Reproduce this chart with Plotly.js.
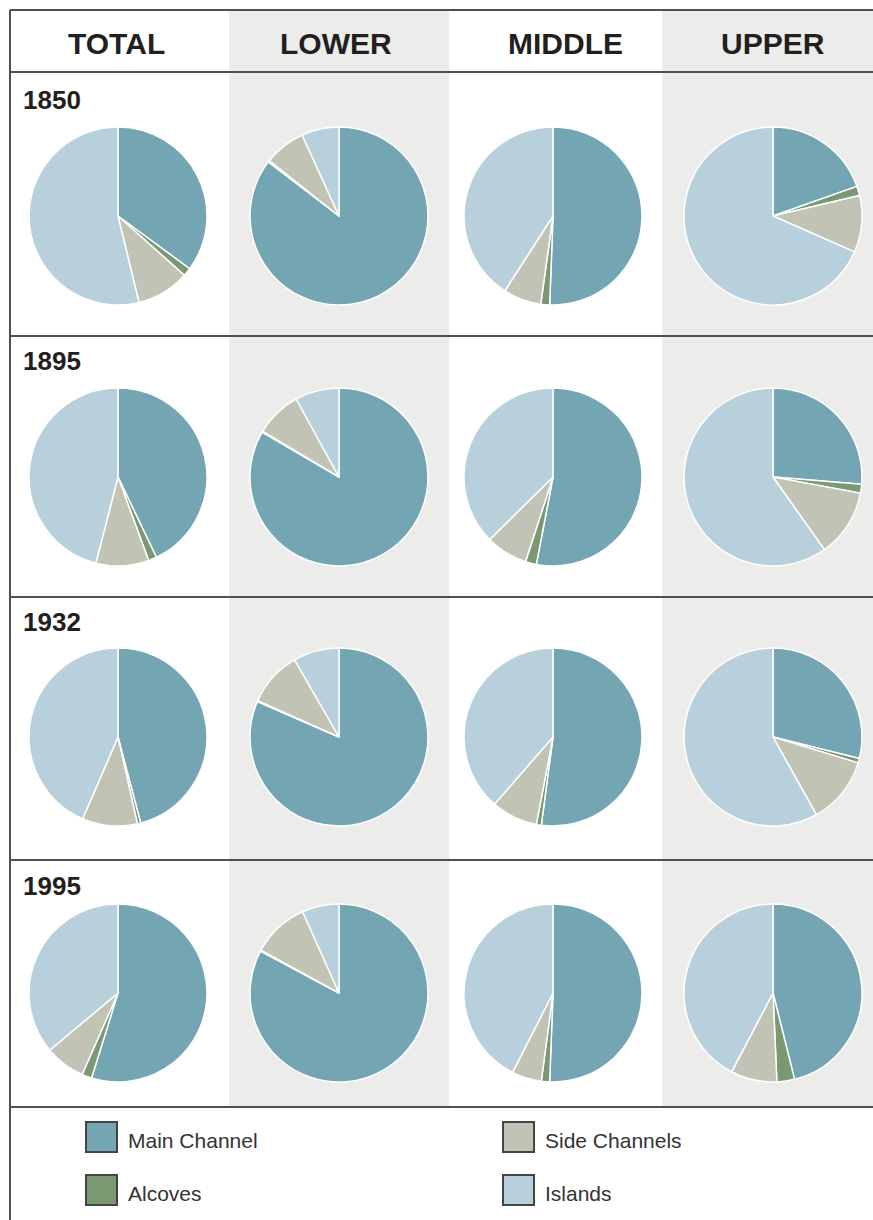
<!DOCTYPE html>
<html>
<head>
<meta charset="utf-8">
<script src="https://cdn.plot.ly/plotly-3.0.1.min.js"></script>
<style>html,body{margin:0;padding:0;background:#fff;}#chart{width:873px;height:1220px;}</style>
</head>
<body>
<div id="chart"></div>
<script>
// ---- Data ----
const regions = ["TOTAL", "LOWER", "MIDDLE", "UPPER"];
const years = ["1850", "1895", "1932", "1995"];
const categories = ["Main Channel", "Alcoves", "Side Channels", "Islands"];
const colors = ["#73a5b3", "#7a9872", "#c1c3b4", "#b8cfdc"];
// shares (%) per region, in category order: Main Channel, Alcoves, Side Channels, Islands
const v1850 = [[35.1, 1.5, 9.6, 53.8], [85.4, 0.3, 7.5, 6.8], [50.6, 1.6, 6.9, 40.9], [19.6, 1.7, 10.3, 68.4]];
const v1895 = [[42.9, 1.5, 9.6, 46.0], [83.4, 0.2, 8.4, 8.0], [53.0, 2.0, 7.6, 37.4], [26.3, 1.6, 12.3, 59.8]];
const v1932 = [[45.9, 0.6, 10.0, 43.5], [81.5, 0.2, 10.0, 8.3], [52.1, 0.9, 8.4, 38.6], [28.9, 0.8, 12.2, 58.1]];
const v1995 = [[54.8, 1.8, 7.3, 36.1], [82.8, 0.2, 10.3, 6.7], [50.6, 1.5, 5.4, 42.5], [46.1, 3.2, 8.4, 42.3]];
const valuesByYear = [v1850, v1895, v1932, v1995];

// ---- Layout geometry (pixels) ----
const W = 873, H = 1220;
const colCenters = [118, 339, 553, 773];
const colEdges = [10, 229, 449, 662, 873];
const rowCenters = [216, 477, 737, 993];
const rowLines = [10, 72, 336, 597, 860, 1107];
const R = 89;
const px = x => x / W;
const py = y => 1 - y / H;

const traces = [];
valuesByYear.forEach((yearVals, ri) => {
  yearVals.forEach((vals, ci) => {
    const cx = colCenters[ci], cy = rowCenters[ri];
    traces.push({
      type: "pie",
      labels: categories,
      values: vals,
      sort: false,
      direction: "clockwise",
      rotation: 0,
      textinfo: "none",
      hovertemplate: regions[ci] + " " + years[ri] + "<br>%{label}: %{value}%<extra></extra>",
      marker: { colors: colors, line: { color: "#ffffff", width: 1.5 } },
      domain: { x: [px(cx - R), px(cx + R)], y: [py(cy + R), py(cy - R)] },
      showlegend: false
    });
  });
});

const shapes = [];
// gray column backgrounds
[1, 3].forEach(ci => {
  shapes.push({ type: "rect", xref: "paper", yref: "paper", layer: "below",
    x0: px(colEdges[ci]), x1: px(colEdges[ci + 1]), y0: py(rowLines[rowLines.length - 1]), y1: py(rowLines[0]),
    fillcolor: "#ececea", line: { width: 0 } });
});
// horizontal rules
rowLines.forEach(y => {
  shapes.push({ type: "line", xref: "paper", yref: "paper", layer: "below",
    x0: px(10), x1: px(W), y0: py(y), y1: py(y), line: { color: "#505050", width: 2 } });
});
// left border
shapes.push({ type: "line", xref: "paper", yref: "paper", layer: "below",
  x0: px(10), x1: px(10), y0: py(10), y1: 0, line: { color: "#505050", width: 2 } });

const annotations = [];
regions.forEach((r, ci) => {
  const hx = [116, 336, 565, 773][ci];
  annotations.push({ text: r, xref: "paper", yref: "paper", x: px(hx), y: py(44),
    xanchor: "center", yanchor: "middle", showarrow: false,
    font: { family: "Liberation Sans, Arial, sans-serif", size: 30, weight: "bold", color: "#231f20" } });
});
years.forEach((yr, ri) => {
  const yy = [100, 361, 622, 886][ri];
  annotations.push({ text: yr, xref: "paper", yref: "paper", x: px(21), y: py(yy),
    xanchor: "left", yanchor: "middle", showarrow: false,
    font: { family: "Liberation Sans, Arial, sans-serif", size: 26, weight: "bold", color: "#231f20" } });
});

// legend (2x2): Main Channel, Side Channels / Alcoves, Islands
const legendPos = [[86, 1137], [86, 1190], [503, 1137], [503, 1190]]; // index = category index
categories.forEach((c, i) => {
  const [lx, ly] = legendPos[i];
  shapes.push({ type: "rect", xref: "paper", yref: "paper", layer: "above",
    x0: px(lx), x1: px(lx + 31), y0: py(ly + 15), y1: py(ly - 15),
    fillcolor: colors[i], line: { color: "#444444", width: 2 } });
  annotations.push({ text: c, xref: "paper", yref: "paper", x: px(lx + 40), y: py(ly + 3),
    xanchor: "left", yanchor: "middle", showarrow: false,
    font: { family: "Liberation Sans, Arial, sans-serif", size: 21, color: "#333333" } });
});

const layout = {
  width: W, height: H,
  margin: { l: 0, r: 0, t: 0, b: 0 },
  paper_bgcolor: "#ffffff",
  plot_bgcolor: "#ffffff",
  showlegend: false,
  shapes: shapes,
  annotations: annotations
};

Plotly.newPlot("chart", traces, layout, { displayModeBar: false, staticPlot: false });
</script>
</body>
</html>
